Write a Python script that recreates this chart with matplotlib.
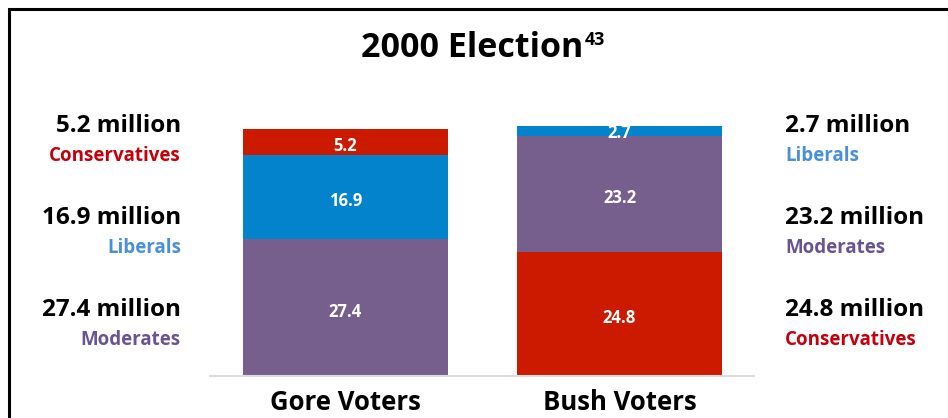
import matplotlib.pyplot as plt
from matplotlib.patches import Rectangle

# data: each bar stacked bottom-up
groups = ['Gore Voters', 'Bush Voters']
gore_parts = ['Moderates', 'Liberals', 'Conservatives']
gore_vals = [27.4, 16.9, 5.2]
bush_parts = ['Conservatives', 'Moderates', 'Liberals']
bush_vals = [24.8, 23.2, 2.7]

bar_col = {'Conservatives': '#cc1a00', 'Liberals': '#0283cb', 'Moderates': '#765f8d'}
txt_col = {'Conservatives': '#c4000b', 'Liberals': '#4a90d9', 'Moderates': '#6a5490'}

plt.rcParams['font.family'] = ['Open Sans', 'DejaVu Sans']
W, H = 948, 418
fig = plt.figure(figsize=(W / 100, H / 100), dpi=100)

# axes placed so the baseline sits at y=376px, 5px per million
ax = fig.add_axes([210 / W, 42 / H, 544 / W, 250 / H])
ax.set_xlim(-0.4945, 1.491)
ax.set_ylim(0, 50)

for i, (parts, vals) in enumerate([(gore_parts, gore_vals), (bush_parts, bush_vals)]):
    bottom = 0
    for p, v in zip(parts, vals):
        ax.bar(i, v, bottom=bottom, width=0.75, color=bar_col[p])
        ax.annotate(f'{v}', (i, bottom + v / 2), xytext=(0, -3), textcoords='offset points',
                    ha='center', va='center', color='white', fontsize=12, fontweight='bold')
        bottom += v

for s in ['top', 'left', 'right']:
    ax.spines[s].set_visible(False)
ax.spines['bottom'].set_color('#dcdcdc')
ax.spines['bottom'].set_linewidth(1.5)
ax.set_xticks([])
ax.set_yticks([])

# category labels under the bars, near the bottom edge
for i, g in enumerate(groups):
    ax.annotate(g, (i, 0), xytext=(0, -24.5), textcoords='offset points', ha='center', va='baseline',
                fontsize=18.5, fontweight='bold', annotation_clip=False)

# side labels, top to bottom
rows_y = [126, 218, 310]
for j, y in enumerate(rows_y):
    p, v = gore_parts[::-1][j], gore_vals[::-1][j]
    fig.text(181 / W, 1 - y / H, f'{v} million', ha='right', va='center', fontsize=17.5, fontweight='bold')
    fig.text(181 / W, 1 - (y + 30) / H, p, ha='right', va='center', fontsize=13.5, fontweight='bold', color=txt_col[p])
    p, v = bush_parts[::-1][j], bush_vals[::-1][j]
    fig.text(785 / W, 1 - y / H, f'{v} million', ha='left', va='center', fontsize=17.5, fontweight='bold')
    fig.text(785 / W, 1 - (y + 30) / H, p, ha='left', va='center', fontsize=13.5, fontweight='bold', color=txt_col[p])

# title with superscript note
t = fig.text(472 / W, 1 - 57 / H, '2000 Election', ha='center', va='baseline', fontsize=24.5, fontweight='bold')
ax.annotate('43', xy=(1, 1), xycoords=t, xytext=(1, 0), textcoords='offset points',
            ha='left', va='top', fontsize=13, fontweight='bold', annotation_clip=False)

# border frame
fig.patches.append(Rectangle((9 / W, -0.1), 1.2, 1 - 9 / H + 0.1, transform=fig.transFigure,
                             fill=False, edgecolor='black', linewidth=2.2))

fig.savefig('out.png', dpi=100)
